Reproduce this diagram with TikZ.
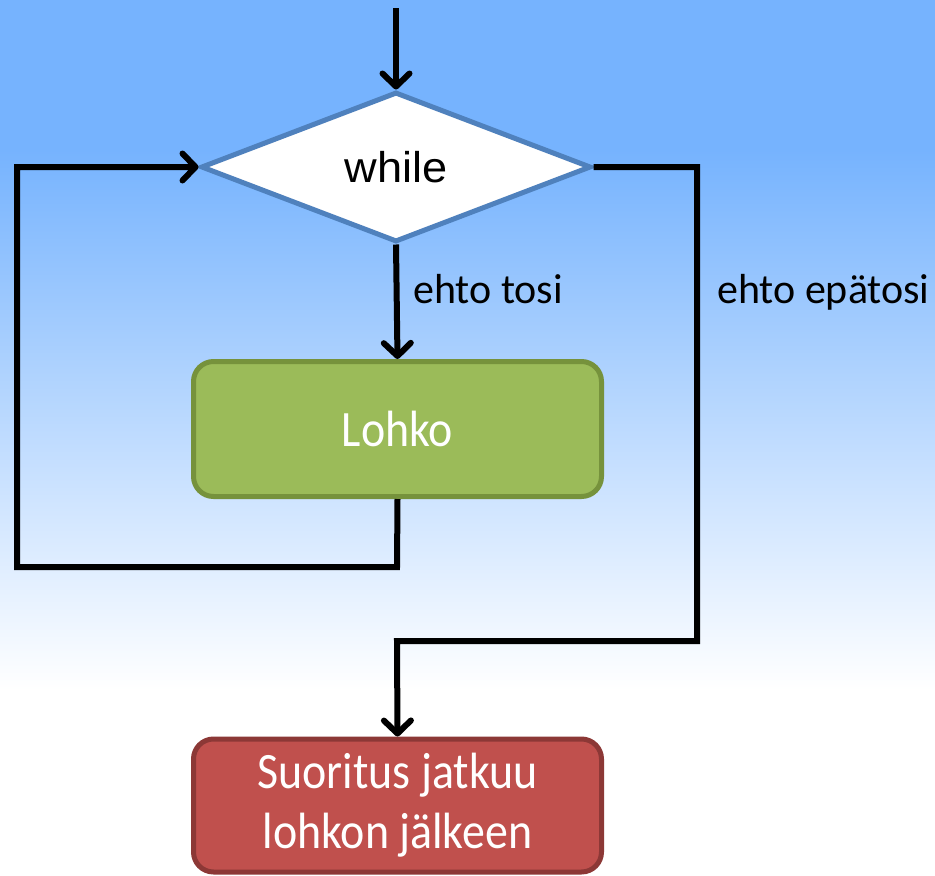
\documentclass[tikz,border=0pt]{standalone}
\usepackage{fontspec}
\setmainfont{Carlito}
\newfontfamily\arialfont{Liberation Sans}
\usetikzlibrary{shapes.geometric,arrows.meta}
\definecolor{bgblue}{HTML}{76B3FE}
\definecolor{dmdline}{HTML}{4F81BD}
\definecolor{grnfill}{HTML}{9BBB59}
\definecolor{grnline}{HTML}{76923C}
\definecolor{redfill}{HTML}{C0504D}
\definecolor{redline}{HTML}{8C3836}
\tikzset{
  conn/.style={line width=6pt, draw=black, line join=miter},
  arr/.style={conn, -{Straight Barb[length=13pt,width=27pt,line cap=round,line join=round]}},
  decision/.style={diamond, draw=dmdline, fill=white, line width=5pt, inner sep=0pt,
    minimum width=390pt, minimum height=150pt, aspect=2.6, font=\arialfont\fontsize{43}{50}\selectfont},
  blockbox/.style={rectangle, rounded corners=20pt, line width=5pt, minimum width=408pt,
    text=white, font=\fontsize{51}{60}\selectfont, align=center, inner sep=0pt},
  lbl/.style={font=\fontsize{42}{50}\selectfont, text=black, inner sep=0pt}
}
\begin{document}
\begin{tikzpicture}[x=1pt,y=-1pt]
\useasboundingbox (0,0) rectangle (935,876);
% background
\fill[bgblue] (0,0) rectangle (935,151);
\shade[top color=bgblue, bottom color=white, shading angle=0] (0,150) rectangle (935,690);
\fill[white] (0,689) rectangle (935,876);
% nodes
\node[decision] (while) at (396,167) {\scalebox{1.05}[1]{while}};
\node[blockbox, fill=grnfill, draw=grnline, minimum height=135pt] (lohko) at (397.5,429) {\scalebox{0.9}[1]{Lohko}};
\node[blockbox, fill=redfill, draw=redline, minimum height=133pt] (jatko) at (397.5,805.5) {\scalebox{0.9}[1]{Suoritus jatkuu}\\\scalebox{0.9}[1]{lohkon jälkeen}};
\coordinate (start) at (396,8);
\node[lbl, anchor=base west] (tosi) at (413,303) {ehto tosi};
\node[lbl, anchor=base west] (epatosi) at (717,303) {ehto epätosi};
% connectors
\draw[arr] (start) -- (while.north);
\draw[arr] (while.south) -- (lohko.north);
\coordinate (c1) at (397,567);
\coordinate (c2) at (17,567);
\coordinate (c3) at (17,167);
\draw[arr] (lohko.south) -- (c1) -- (c2) -- (c3) -- (while.west);
\coordinate (d1) at (697,167);
\coordinate (d2) at (697,641);
\coordinate (d3) at (397,641);
\draw[arr] (while.east) -- (d1) -- (d2) -- (d3) -- (jatko.north);
\end{tikzpicture}
\end{document}
